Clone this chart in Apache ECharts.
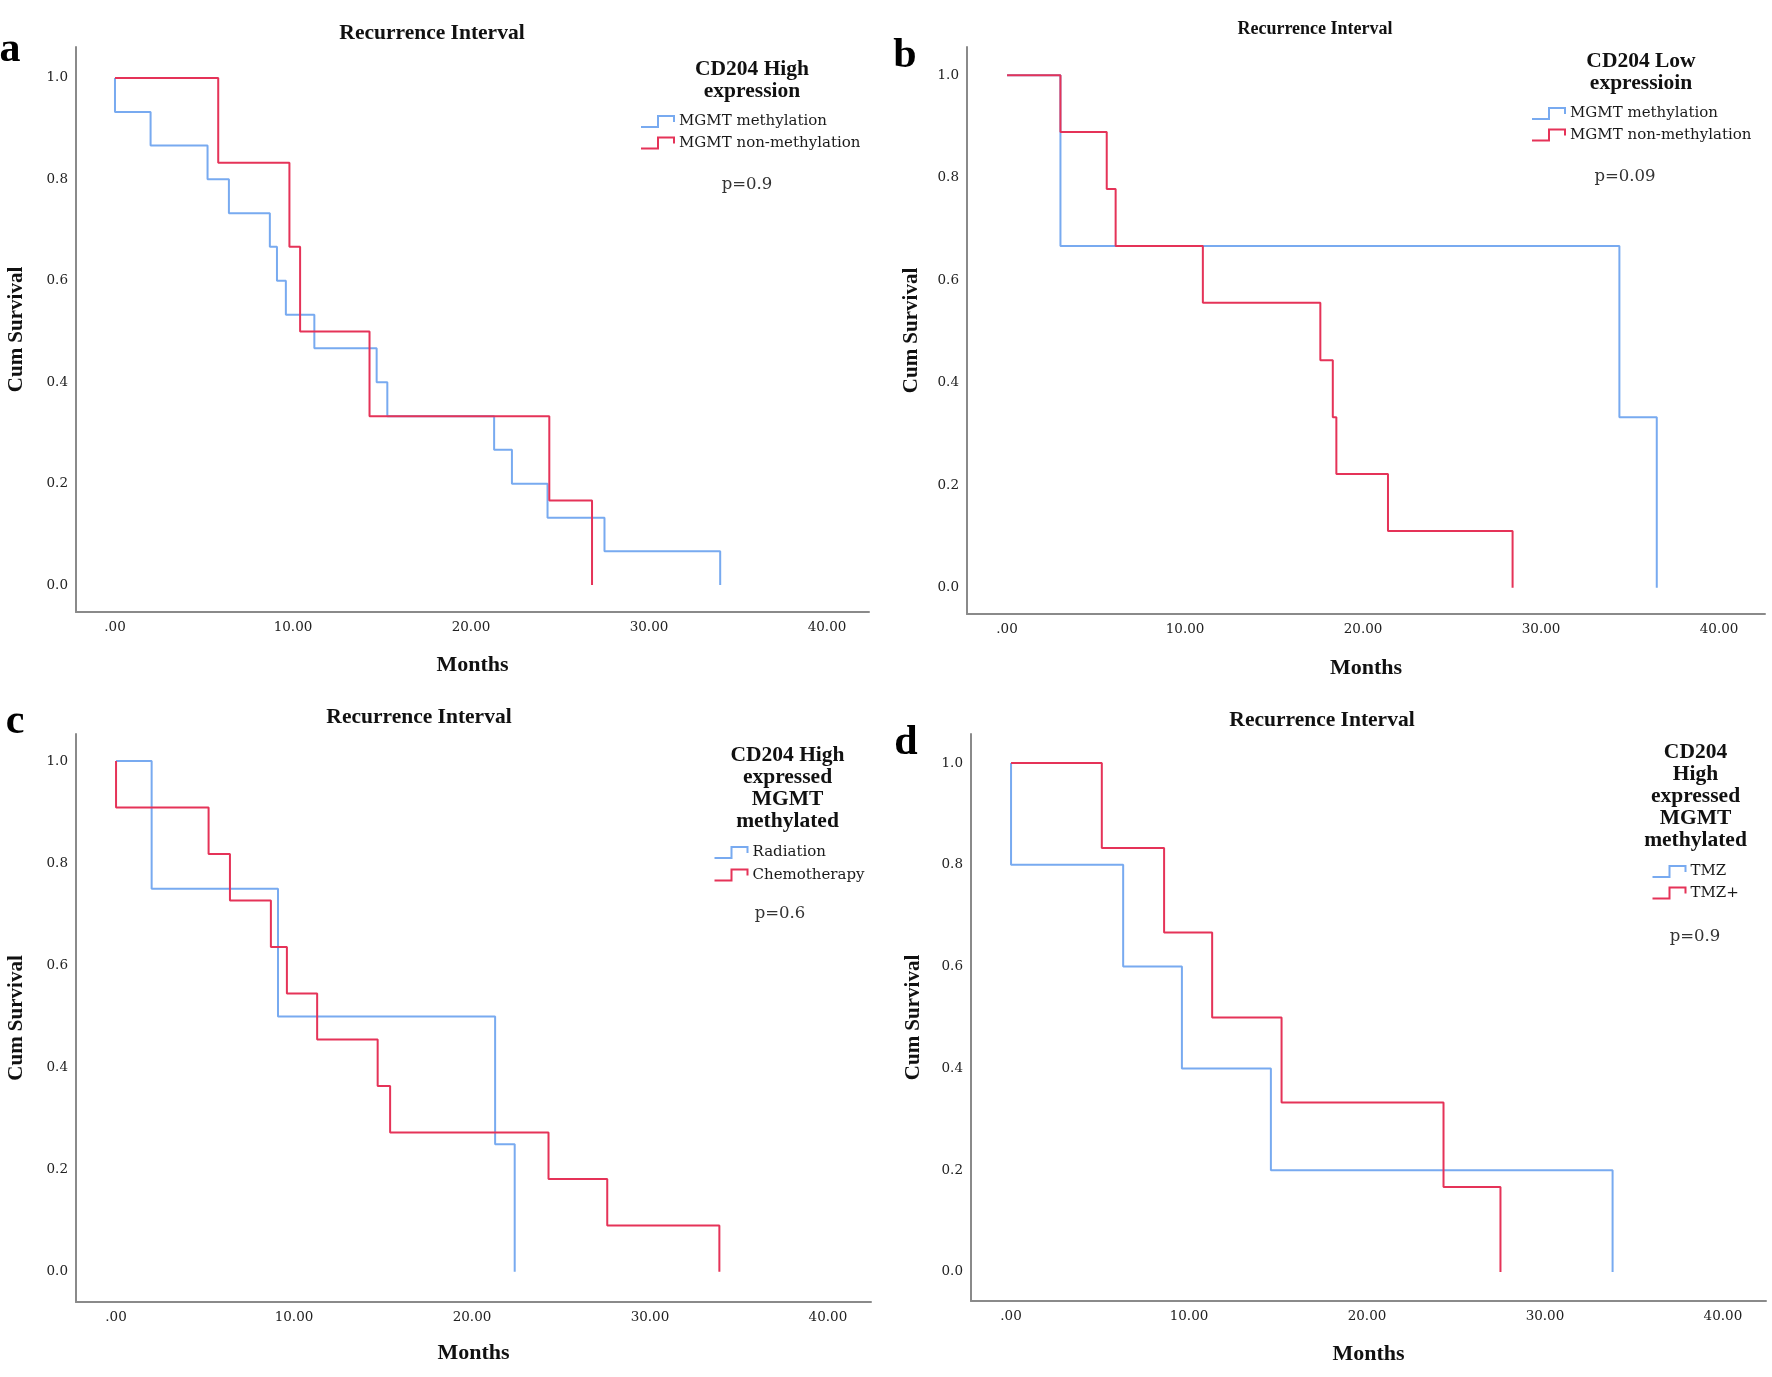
<!DOCTYPE html>
<html><head><meta charset="utf-8">
<script src="https://cdn.jsdelivr.net/npm/echarts@6/dist/echarts.min.js"></script>
<style>html,body{margin:0;padding:0;background:#fff}#c{width:1772px;height:1377px}</style>
</head><body><div id="c"></div>
<script>
// ---------- data ----------
const xTickValues = [0, 10, 20, 30, 40];
const xTickLabels = ['.00', '10.00', '20.00', '30.00', '40.00'];
const yTickValues = [0, 0.2, 0.4, 0.6, 0.8, 1.0];
const yTickLabels = ['0.0', '0.2', '0.4', '0.6', '0.8', '1.0'];
const xAxisName = 'Months';
const yAxisName = 'Cum Survival';
const panelTitles = ['Recurrence Interval', 'Recurrence Interval', 'Recurrence Interval', 'Recurrence Interval'];
const panelLetters = ['a', 'b', 'c', 'd'];
const legendTitles = ['CD204 High\nexpression', 'CD204 Low\nexpressioin', 'CD204 High\nexpressed\nMGMT\nmethylated', 'CD204\nHigh\nexpressed\nMGMT\nmethylated'];
const pValues = ['p=0.9', 'p=0.09', 'p=0.6', 'p=0.9'];
const seriesNames = [
  ['MGMT methylation', 'MGMT non-methylation'],
  ['MGMT methylation', 'MGMT non-methylation'],
  ['Radiation', 'Chemotherapy'],
  ['TMZ', 'TMZ+']
];

// panel a
const aBlueTime = [0, 0, 2.0, 5.2, 6.4, 8.7, 9.1, 9.6, 11.2, 14.7, 15.3, 21.3, 22.3, 24.3, 27.5, 34.0];
const aBlueSurv = [1, 0.933, 0.867, 0.8, 0.733, 0.667, 0.6, 0.533, 0.467, 0.4, 0.333, 0.267, 0.2, 0.133, 0.067, 0];
const aRedTime = [0, 5.8, 9.8, 10.4, 14.3, 24.4, 26.8];
const aRedSurv = [1, 0.833, 0.667, 0.5, 0.333, 0.167, 0];
// panel b
const bBlueTime = [0, 3.0, 34.4, 36.5];
const bBlueSurv = [1, 0.667, 0.333, 0];
const bRedTime = [0, 3.0, 5.6, 6.1, 11.0, 17.6, 18.3, 18.5, 21.4, 28.4];
const bRedSurv = [1, 0.889, 0.778, 0.667, 0.556, 0.444, 0.333, 0.222, 0.111, 0];
// panel c
const cBlueTime = [0, 2.0, 9.1, 21.3, 22.4];
const cBlueSurv = [1, 0.75, 0.5, 0.25, 0];
const cRedTime = [0, 0, 5.2, 6.4, 8.7, 9.6, 11.3, 14.7, 15.4, 24.3, 27.6, 33.9];
const cRedSurv = [1, 0.909, 0.818, 0.727, 0.636, 0.545, 0.455, 0.364, 0.273, 0.182, 0.091, 0];
// panel d
const dBlueTime = [0, 0, 6.3, 9.6, 14.6, 33.8];
const dBlueSurv = [1, 0.8, 0.6, 0.4, 0.2, 0];
const dRedTime = [0, 5.1, 8.6, 11.3, 15.2, 24.3, 27.5];
const dRedSurv = [1, 0.833, 0.667, 0.5, 0.333, 0.167, 0];

const curves = [
  [[aBlueTime, aBlueSurv], [aRedTime, aRedSurv]],
  [[bBlueTime, bBlueSurv], [bRedTime, bRedSurv]],
  [[cBlueTime, cBlueSurv], [cRedTime, cRedSurv]],
  [[dBlueTime, dBlueSurv], [dRedTime, dRedSurv]]
];

// ---------- style / layout ----------
const BLUE = '#78aaf0', RED = '#e53358';
const colors = [BLUE, RED];
const AXIS = '#8a8a8a';
const SERIF = '"Liberation Serif", "Times New Roman", serif';
const WIDESERIF = '"DejaVu Serif", serif';
const layout = [
  {grid:{left:76,top:47,width:793,height:565}, x:[-2.19,42.36], y:[-0.053,1.061], yGap:49, xGap:42, title:[432,33,21.5], letter:[10,50], legTitle:[752,80], legend:[640,114,6.5], p:[747,184.5]},
  {grid:{left:967,top:47,width:798,height:567}, x:[-2.25,42.58], y:[-0.051,1.055], yGap:45, xGap:43, title:[1315,29,18], letter:[905,56], legTitle:[1641,72], legend:[1531,106,6.5], p:[1625,177]},
  {grid:{left:76,top:734,width:795,height:568}, x:[-2.25,42.42], y:[-0.059,1.053], yGap:49, xGap:40, title:[419,717,21.5], letter:[15,722], legTitle:[787.5,788], legend:[713.5,845,7.5], p:[780,914]},
  {grid:{left:971,top:734,width:795,height:567}, x:[-2.25,42.42], y:[-0.057,1.057], yGap:47, xGap:42, title:[1322,720,21.5], letter:[906,743], legTitle:[1695.5,796], legend:[1651.5,864,6.5], p:[1695,937]}
];
const stepIcon = 'path://M0,12L17,12L17,1L33,1L33,7';

function txt(x, y, text, font, fill, lineHeight) {
  return {type:'text', x:x, y:y, silent:true, style:{text:text, font:font, fill:fill || '#111',
    textAlign:'center', textVerticalAlign:'middle', align:'center', verticalAlign:'middle', lineHeight: lineHeight || undefined}};
}

const grids = [], xAxes = [], yAxes = [], series = [], legends = [], graphics = [];
layout.forEach((L, i) => {
  grids.push(Object.assign({containLabel:false}, L.grid));
  xAxes.push({
    gridIndex:i, type:'value', min:L.x[0], max:L.x[1],
    axisLine:{show:true, onZero:false, lineStyle:{color:AXIS, width:2}},
    axisTick:{show:false}, splitLine:{show:false},
    axisLabel:{customValues:xTickValues, formatter:v => xTickLabels[xTickValues.indexOf(v)],
      fontFamily:WIDESERIF, fontSize:13.5, color:'#222', margin:8},
    name:xAxisName, nameLocation:'middle', nameGap:L.xGap,
    nameTextStyle:{fontFamily:SERIF, fontWeight:'bold', fontSize:22, color:'#111'}
  });
  yAxes.push({
    gridIndex:i, type:'value', min:L.y[0], max:L.y[1],
    axisLine:{show:true, onZero:false, lineStyle:{color:AXIS, width:2}},
    axisTick:{show:false}, splitLine:{show:false},
    axisLabel:{customValues:yTickValues, formatter:v => yTickLabels[yTickValues.indexOf(v)],
      fontFamily:WIDESERIF, fontSize:13.5, color:'#222', margin:8},
    name:yAxisName, nameLocation:'middle', nameGap:L.yGap,
    nameTextStyle:{fontFamily:SERIF, fontWeight:'bold', fontSize:21, color:'#111'}
  });
  curves[i].forEach((c, k) => {
    series.push({
      type:'line', name:seriesNames[i][k], xAxisIndex:i, yAxisIndex:i,
      step:'end', showSymbol:false, symbol:'none', animation:false,
      lineStyle:{color:colors[k], width:2}, itemStyle:{color:colors[k]},
      data:c[0].map((t, j) => [t, c[1][j]])
    });
  });
  legends.push({
    orient:'vertical', left:L.legend[0], top:L.legend[1], itemGap:L.legend[2], padding:0,
    itemWidth:33, itemHeight:11, selectedMode:false,
    textStyle:{fontFamily:WIDESERIF, fontSize:15, color:'#1a1a1a'},
    data:seriesNames[i].map((n, k) => ({name:n, icon:stepIcon,
      itemStyle:{color:'rgba(0,0,0,0)', borderColor:colors[k], borderWidth:2}}))
  });
  graphics.push(txt(L.title[0], L.title[1], panelTitles[i], 'bold ' + L.title[2] + 'px ' + SERIF));
  graphics.push(txt(L.letter[0], L.letter[1], panelLetters[i], 'bold 42px ' + SERIF, '#000'));
  graphics.push(txt(L.legTitle[0], L.legTitle[1], legendTitles[i], 'bold 21.5px ' + SERIF, '#111', 22));
  graphics.push(txt(L.p[0], L.p[1], pValues[i], '16.5px ' + WIDESERIF, '#333'));
});

const chart = echarts.init(document.getElementById('c'), null, {renderer:'canvas'});
chart.setOption({
  animation:false, backgroundColor:'#fff',
  grid:grids, xAxis:xAxes, yAxis:yAxes, series:series, legend:legends,
  graphic:{elements:graphics}
});
</script></body></html>
